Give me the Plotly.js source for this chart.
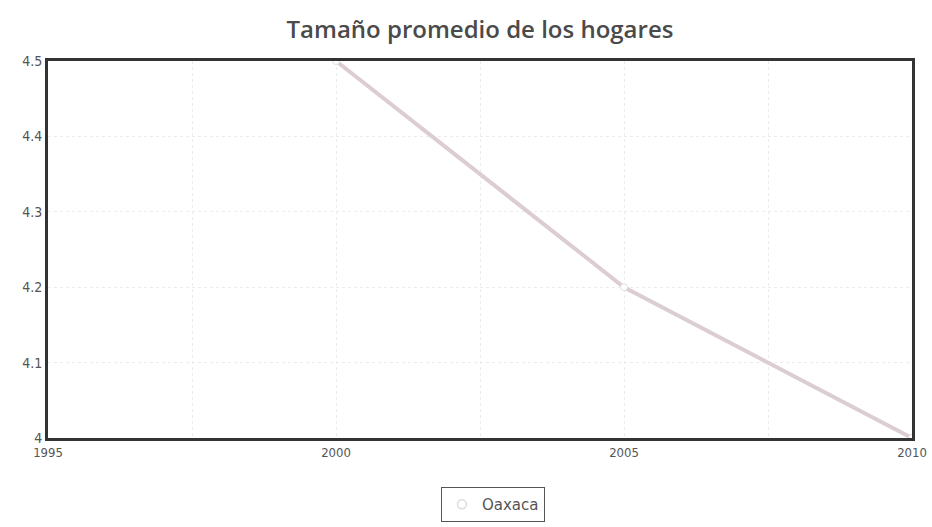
<!DOCTYPE html>
<html>
<head>
<meta charset="utf-8">
<script src="https://cdn.plot.ly/plotly-3.0.1.min.js"></script>
<style>html,body{margin:0;padding:0;background:#fff;}#chart{width:932px;height:527px;}</style>
</head>
<body>
<div id="chart"></div>
<script>
const years = [2000, 2005, 2010];
const oaxaca = [4.5, 4.2, 4.0];
const seriesName = "Oaxaca";
const xTicks = [1995, 2000, 2005, 2010];
const yTicks = [4, 4.1, 4.2, 4.3, 4.4, 4.5];

const trace = {
  x: years, y: oaxaca, name: seriesName, type: 'scatter', mode: 'lines+markers',
  showlegend: false,
  line: {color: '#dccdd4', width: 4},
  marker: {color: '#ffffff', size: 7, line: {color: '#e6dde2', width: 1}}
};
const legendTrace = {
  x: [null], y: [null], name: seriesName, type: 'scatter', mode: 'markers',
  marker: {color: '#ffffff', size: 9, line: {color: '#dcdcdc', width: 1.5}}
};

const layout = {
  width: 932, height: 527,
  paper_bgcolor: '#ffffff', plot_bgcolor: '#ffffff',
  margin: {l: 48, r: 20, t: 61, b: 89, autoexpand: false},
  title: {text: 'Tamaño promedio de los hogares', x: 0.515, xanchor: 'center', y: 0.96,
          font: {family: 'Open Sans', size: 24, color: '#4a4a4a', weight: 600}},
  font: {family: 'DejaVu Sans Condensed, DejaVu Sans', color: '#444'},
  xaxis: {
    range: [1995, 2010], tickvals: xTicks, ticktext: xTicks.map(String),
    showgrid: true, gridcolor: '#ebebeb', gridwidth: 1, griddash: 'dot',
    minor: {dtick: 2.5, tick0: 1995, showgrid: true, gridcolor: '#ebebeb', griddash: 'dot', ticks: ''},
    showline: true, linecolor: '#333', linewidth: 3, mirror: true, zeroline: false,
    ticks: '', tickfont: {size: 13, color: '#555'}, fixedrange: true
  },
  yaxis: {
    range: [4, 4.5], tickvals: yTicks, ticktext: ['4', '4.1', '4.2', '4.3', '4.4', '4.5'],
    showgrid: true, gridcolor: '#ebebeb', gridwidth: 1, griddash: 'dot',
    showline: true, linecolor: '#333', linewidth: 3, mirror: true, zeroline: false,
    ticks: '', tickfont: {size: 14, color: '#555'}, fixedrange: true
  },
  showlegend: true,
  legend: {orientation: 'h', x: 0.515, xanchor: 'center', y: -0.13, yanchor: 'top',
           bordercolor: '#555', borderwidth: 1, bgcolor: '#fff',
           font: {family: 'DejaVu Sans', size: 15, color: '#555'}}
};

Plotly.newPlot('chart', [trace, legendTrace], layout, {displayModeBar: false, staticPlot: true});
</script>
</body>
</html>
